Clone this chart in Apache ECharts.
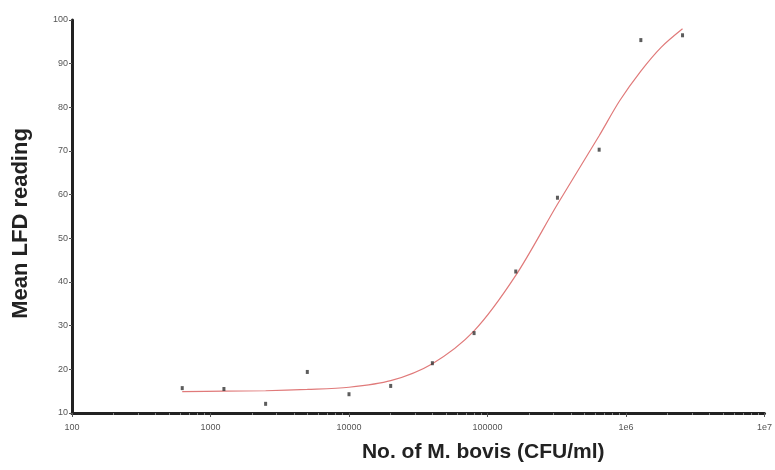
<!DOCTYPE html>
<html>
<head>
<meta charset="utf-8">
<script src="https://cdn.jsdelivr.net/npm/echarts@6/dist/echarts.min.js"></script>
<style>
  html, body { margin: 0; padding: 0; background: #fff; }
  #chart { width: 775px; height: 470px; }
</style>
</head>
<body>
<div id="chart"></div>
<script>
"use strict";

// measured points (CFU/ml, mean LFD reading)
var cfu = [625, 1250, 2500, 5000, 10000, 20000, 40000, 80000, 160000, 320000, 640000, 1280000, 2560000];
var lfd = [15.7, 15.5, 12.1, 19.4, 14.3, 16.2, 21.4, 28.3, 42.4, 59.3, 70.3, 95.4, 96.5];

// fitted curve
var fitX = [625, 1250, 2500, 5000, 10000, 20000, 40000, 80000, 160000, 320000, 640000, 900000, 1280000, 1800000, 2560000];
var fitY = [14.9, 15.0, 15.1, 15.4, 15.9, 17.4, 21.3, 28.8, 41.5, 57.8, 73.5, 81.5, 88.3, 93.8, 98.0];

var xTickLabels = ['100', '1000', '10000', '100000', '1e6', '1e7'];

var chart = echarts.init(document.getElementById('chart'));

var pts = cfu.map(function (x, i) { return [x, lfd[i]]; });
var fit = fitX.map(function (x, i) { return [x, fitY[i]]; });

var option = {
	animation: false,
	grid: { left: 72, right: 5, top: 20, bottom: 57 },
	xAxis: {
		type: 'log',
		logBase: 10,
		min: 100,
		max: 10000000,
		name: 'No. of M. bovis (CFU/ml)',
		nameLocation: 'middle',
		nameGap: 29,
		nameTextStyle: {
			fontFamily: 'Liberation Sans, Arial, sans-serif',
			fontWeight: 'bold',
			fontSize: 21,
			color: '#222',
			padding: [0, 0, 0, 130]
		},
		axisLine: { lineStyle: { color: '#222', width: 3 } },
		axisTick: { show: true, length: 4, lineStyle: { color: '#555' } },
		minorTick: { show: true, splitNumber: 9, length: 2, lineStyle: { color: '#888' } },
		axisLabel: {
			margin: 10,
			fontSize: 9,
			color: '#555',
			fontFamily: 'Liberation Sans, Arial, sans-serif',
			formatter: function (v, i) { return xTickLabels[i]; }
		},
		splitLine: { show: false }
	},
	yAxis: {
		type: 'value',
		min: 10,
		max: 100,
		interval: 10,
		name: 'Mean LFD reading',
		nameLocation: 'middle',
		nameGap: 40,
		nameTextStyle: {
			fontFamily: 'Liberation Sans, Arial, sans-serif',
			fontWeight: 'bold',
			fontSize: 22,
			color: '#222',
			padding: [0, 14, 0, 0]
		},
		axisLine: { show: true, lineStyle: { color: '#222', width: 3 } },
		axisTick: { show: true, length: 3, lineStyle: { color: '#555' } },
		axisLabel: {
			margin: 4,
			fontSize: 9,
			color: '#555',
			fontFamily: 'Liberation Sans, Arial, sans-serif'
		},
		splitLine: { show: false }
	},
	series: [
		{
			type: 'line',
			data: fit,
			smooth: 0.3,
			showSymbol: false,
			lineStyle: { color: '#e07a7a', width: 1.2 },
			z: 2
		},
		{
			type: 'scatter',
			data: pts,
			symbol: 'rect',
			symbolSize: [3, 4],
			itemStyle: { color: '#333' },
			z: 3
		}
	]
};

chart.setOption(option);
</script>
</body>
</html>
